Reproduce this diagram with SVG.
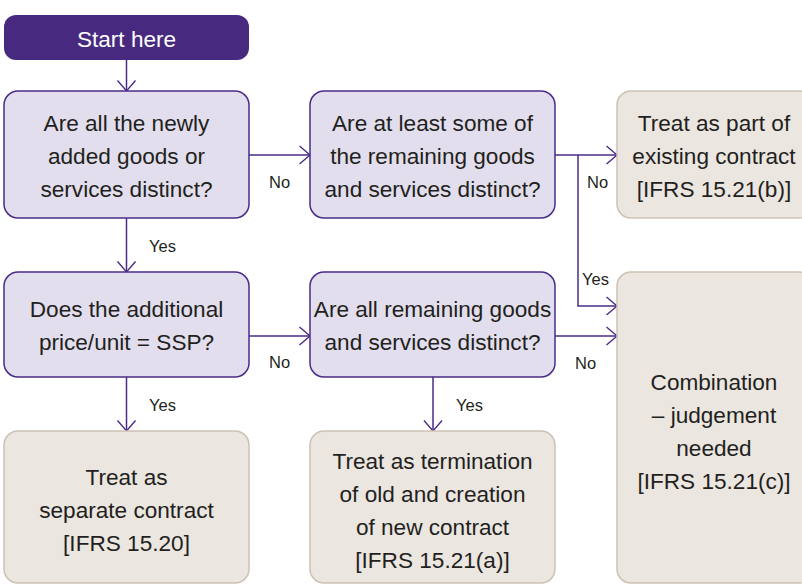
<svg xmlns="http://www.w3.org/2000/svg" width="802" height="585" viewBox="0 0 802 585">
<style>
.q{fill:#e2deed;stroke:#4b2b88;stroke-width:1.5}
.r{fill:#ebe6e0;stroke:#cdc1b4;stroke-width:1.5}
.t{font-family:"Liberation Sans",Arial,sans-serif;font-size:22.6px;fill:#231f20;text-anchor:middle}
.l{font-family:"Liberation Sans",Arial,sans-serif;font-size:16.5px;fill:#231f20}
.c{fill:none;stroke:#4b2b88;stroke-width:1.5}
</style>
<defs>
<marker id="ah" markerUnits="userSpaceOnUse" markerWidth="14" markerHeight="22" viewBox="-12 -11 14 22" refX="0" refY="0" orient="auto">
<path d="M-10.5,-9 L0,0 L-10.5,9" fill="none" stroke="#4b2b88" stroke-width="1.4"/>
</marker>
</defs>
<rect width="802" height="585" fill="#fff"/>
<g id="connectors">
<path class="c" d="M126.5,60 V91" marker-end="url(#ah)"/>
<path class="c" d="M249,155 H310" marker-end="url(#ah)"/>
<path class="c" d="M126.5,218 V272" marker-end="url(#ah)"/>
<path class="c" d="M555,155 H617" marker-end="url(#ah)"/>
<path class="c" d="M578,155 V306 H617" marker-end="url(#ah)"/>
<path class="c" d="M249,336 H310" marker-end="url(#ah)"/>
<path class="c" d="M555,336 H617" marker-end="url(#ah)"/>
<path class="c" d="M126.5,377 V431" marker-end="url(#ah)"/>
<path class="c" d="M433,377 V431" marker-end="url(#ah)"/>
<text class="l" x="269" y="188">No</text>
<text class="l" x="149" y="252">Yes</text>
<text class="l" x="587" y="188">No</text>
<text class="l" x="582" y="285">Yes</text>
<text class="l" x="269" y="368">No</text>
<text class="l" x="575" y="369">No</text>
<text class="l" x="149" y="411">Yes</text>
<text class="l" x="456" y="411">Yes</text>
</g>
<g id="start">
<rect x="4" y="15" width="245" height="45" rx="12" fill="#472a80"/>
<text class="t" x="126.5" y="47" style="fill:#fff">Start here</text>
</g>
<g id="q1">
<rect class="q" x="4" y="91" width="245" height="127" rx="14"/>
<text class="t" x="126.5" y="131">Are all the newly</text>
<text class="t" x="126.5" y="164">added goods or</text>
<text class="t" x="126.5" y="197">services distinct?</text>
</g>
<g id="q2">
<rect class="q" x="310" y="91" width="245" height="127" rx="14"/>
<text class="t" x="432.5" y="131">Are at least some of</text>
<text class="t" x="432.5" y="164">the remaining goods</text>
<text class="t" x="432.5" y="197">and services distinct?</text>
</g>
<g id="r1">
<rect class="r" x="617" y="91" width="196" height="127" rx="14"/>
<text class="t" x="714" y="131">Treat as part of</text>
<text class="t" x="714" y="164">existing contract</text>
<text class="t" x="714" y="197">[IFRS 15.21(b)]</text>
</g>
<g id="q3">
<rect class="q" x="4" y="272" width="245" height="105" rx="14"/>
<text class="t" x="126.5" y="317">Does the additional</text>
<text class="t" x="126.5" y="350">price/unit = SSP?</text>
</g>
<g id="q4">
<rect class="q" x="310" y="272" width="245" height="105" rx="14"/>
<text class="t" x="432.5" y="317">Are all remaining goods</text>
<text class="t" x="432.5" y="350">and services distinct?</text>
</g>
<g id="r2">
<rect class="r" x="617" y="272" width="196" height="311" rx="14"/>
<text class="t" x="714" y="390">Combination</text>
<text class="t" x="714" y="423">– judgement</text>
<text class="t" x="714" y="456">needed</text>
<text class="t" x="714" y="489">[IFRS 15.21(c)]</text>
</g>
<g id="r3">
<rect class="r" x="4" y="431" width="245" height="152" rx="14"/>
<text class="t" x="126.5" y="485">Treat as</text>
<text class="t" x="126.5" y="518">separate contract</text>
<text class="t" x="126.5" y="551">[IFRS 15.20]</text>
</g>
<g id="r4">
<rect class="r" x="310" y="431" width="245" height="152" rx="14"/>
<text class="t" x="432.5" y="469">Treat as termination</text>
<text class="t" x="432.5" y="502">of old and creation</text>
<text class="t" x="432.5" y="535">of new contract</text>
<text class="t" x="432.5" y="568">[IFRS 15.21(a)]</text>
</g>
</svg>
